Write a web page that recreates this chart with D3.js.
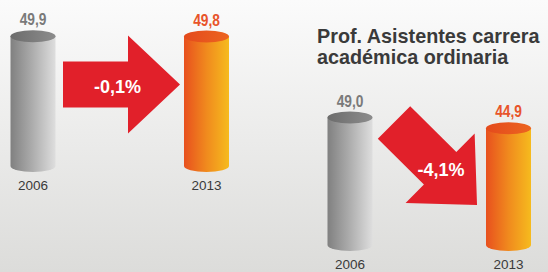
<!DOCTYPE html>
<html>
<head>
<meta charset="utf-8" />
<title>Cylinders</title>
<script src="https://d3js.org/d3.v7.min.js"></script>
<style>
  body { margin: 0; font-family: "Liberation Sans", Arial, sans-serif; }
  .val { font-weight: bold; font-size: 16px; }
  .year { font-size: 13.5px; fill: #3a3a3a; }
  .pct { font-weight: bold; font-size: 18px; fill: #fff; }
  .title { font-weight: bold; font-size: 19.8px; fill: #3a3a3a; }
</style>
</head>
<body>
<div id="graphic"></div>
<script>
// data
var years = ["2006", "2013"];
var valuesA = [49.9, 49.8];
var valuesB = [49.0, 44.9];
var changes = ["-0,1%", "-4,1%"];
var titleLines = ["Prof. Asistentes carrera", "académica ordinaria"];

var width = 548, height = 272;
var svg = d3.select("#graphic").append("svg")
  .attr("width", width).attr("height", height);

var defs = svg.append("defs");
var bg = defs.append("linearGradient").attr("id", "bg").attr("x1", 0).attr("y1", 0).attr("x2", 0).attr("y2", 1);
bg.append("stop").attr("offset", "0%").attr("stop-color", "#fbfbfb");
bg.append("stop").attr("offset", "100%").attr("stop-color", "#dcdcda");

function hgrad(id, stops) {
  var g = defs.append("linearGradient").attr("id", id).attr("x1", 0).attr("y1", 0).attr("x2", 1).attr("y2", 0);
  stops.forEach(function (s) { g.append("stop").attr("offset", s[0]).attr("stop-color", s[1]); });
}
hgrad("greyBody", [["0%", "#808080"], ["45%", "#a9a9a9"], ["100%", "#dedede"]]);
hgrad("greyTop", [["0%", "#6c6c6c"], ["100%", "#8c8c8c"]]);
hgrad("orBody", [["0%", "#e8501e"], ["50%", "#f08a1e"], ["100%", "#f6bb1e"]]);
hgrad("orTop", [["0%", "#e44a1c"], ["100%", "#ec6420"]]);

svg.append("rect").attr("width", width).attr("height", height).attr("fill", "url(#bg)");

var h = d3.scaleLinear().domain([0, 50]).range([0, 130]);
var rx = 22.5, ry = 6;

var panels = [
  { values: valuesA, x: d3.scalePoint().domain(years).range([33, 206.5]), base: 166,
    change: changes[0], tail: [63, 84.5], angle: 0, textPos: [117.5, 93] },
  { values: valuesB, x: d3.scalePoint().domain(years).range([350, 508.5]), base: 245,
    change: changes[1], tail: [394, 122.5], angle: 44.8, textPos: [441, 176] }
];

var styles = [
  { body: "url(#greyBody)", top: "url(#greyTop)", label: "#7a7a7a" },
  { body: "url(#orBody)", top: "url(#orTop)", label: "#e8542a" }
];

// arrow outline pointing +x, tail centre at origin
var L = 117, hl = 52, sw = 46, hw = 98;
var arrowPts = [[0, -sw / 2], [L - hl, -sw / 2], [L - hl, -hw / 2], [L, 0],
  [L - hl, hw / 2], [L - hl, sw / 2], [0, sw / 2]];

panels.forEach(function (p) {
  var g = svg.append("g");

  g.append("polygon")
    .attr("points", arrowPts.map(function (q) { return q.join(","); }).join(" "))
    .attr("transform", "translate(" + p.tail[0] + "," + p.tail[1] + ") rotate(" + p.angle + ")")
    .attr("fill", "#e1202a");

  g.append("text").attr("class", "pct")
    .attr("x", p.textPos[0]).attr("y", p.textPos[1])
    .attr("text-anchor", "middle")
    .text(p.change);

  var cyl = g.selectAll(".cyl").data(p.values).enter().append("g").attr("class", "cyl");

  cyl.each(function (v, i) {
    var c = d3.select(this);
    var cx = p.x(years[i]);
    var top = p.base - h(v);
    var st = styles[i];
    c.append("path")
      .attr("d", "M" + (cx - rx) + "," + top + " L" + (cx - rx) + "," + p.base +
        " A" + rx + "," + ry + " 0 0 0 " + (cx + rx) + "," + p.base +
        " L" + (cx + rx) + "," + top + " Z")
      .attr("fill", st.body);
    c.append("ellipse")
      .attr("cx", cx).attr("cy", top).attr("rx", rx).attr("ry", ry)
      .attr("fill", st.top);
    c.append("text").attr("class", "val")
      .attr("text-anchor", "middle")
      .attr("transform", "translate(" + cx + "," + (top - ry - 5) + ") scale(0.86,1)")
      .attr("fill", st.label)
      .text(d3.format(".1f")(v).replace(".", ","));
    c.append("text").attr("class", "year")
      .attr("x", cx).attr("y", p.base + ry + 18)
      .attr("text-anchor", "middle")
      .text(years[i]);
  });
});

svg.append("text").attr("class", "title")
  .attr("x", 317).attr("y", 42.5)
  .selectAll("tspan").data(titleLines).enter().append("tspan")
  .attr("x", 317).attr("dy", function (d, i) { return i ? 21 : 0; })
  .text(function (d) { return d; });
</script>
</body>
</html>
